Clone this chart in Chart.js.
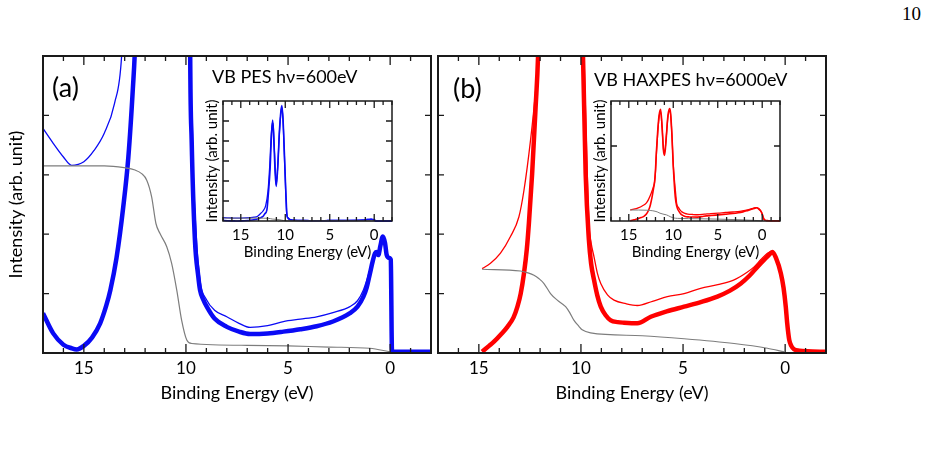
<!DOCTYPE html>
<html>
<head>
<meta charset="utf-8">
<script src="https://cdn.jsdelivr.net/npm/chart.js@4.4.1/dist/chart.umd.min.js"></script>
<style>
  body { margin: 0; width: 929px; height: 454px; background: #fff; position: relative; overflow: hidden; font-family: Lato, sans-serif; color: #000; }
  .holder { position: absolute; }
  .lbl { position: absolute; white-space: nowrap; }
</style>
</head>
<body>
<div class="lbl" style="left:902px;top:2px;font:19px 'Liberation Serif',serif;line-height:24px">10</div>

<div class="holder" style="left:0;top:0"><canvas id="mainA" width="440" height="410"></canvas></div>
<div class="holder" style="left:395px;top:0"><canvas id="mainB" width="440" height="410"></canvas></div>
<div class="holder" style="left:195px;top:90px"><canvas id="insetA" width="205" height="175"></canvas></div>
<div class="holder" style="left:583px;top:90px"><canvas id="insetB" width="205" height="175"></canvas></div>

<div class="lbl" style="left:52px;top:71px;font-size:27px;line-height:32px">(a)</div>
<div class="lbl" style="left:212px;top:65px;font-size:18px;line-height:22px">VB PES hν=600eV</div>
<div class="lbl" style="left:453px;top:72px;font-size:27px;line-height:32px">(b)</div>
<div class="lbl" style="left:594px;top:68px;font-size:18px;line-height:22px">VB HAXPES hν=6000eV</div>

<script>
// x tick labels (eV)
const xLabels = [15, 10, 5, 0];

// (a) VB PES 600 eV - thick spectrum
const aThickE = [17, 16.5, 16.0, 15.6, 15.35, 15.0, 14.6, 14.2, 13.9, 13.7, 13.4, 13.07, 12.82, 12.6, 12.49,
  12.3, 12.07, 11.9, 11.7, 11.55, 11.42, 11.3, 11.15, 11.02, 10.85, 10.65, 10.5, 10.38, 10.25, 10.1,
  9.95, 9.85, 9.8, 9.72, 9.56, 9.4, 9.31, 9.15, 8.98, 8.6, 8.0, 7.4, 6.86, 6.0, 5.23, 4.4, 3.6, 2.8,
  1.97, 1.6, 1.31, 1.15, 0.99, 0.85, 0.74, 0.65, 0.58, 0.48, 0.36, 0.25, 0.17, 0.05, -0.03, -0.09,
  -0.3, -1, -2];
const aThickI = [0.67, 0.33, 0.14, 0.08, 0.06, 0.12, 0.26, 0.5, 0.8, 1.06, 1.6, 2.46, 3.3, 4.45, 5.2,
  8, 12, 30, 58, 95, 111, 92, 55, 38, 58, 100, 120, 127, 112, 75,
  35, 12, 5.5, 3.58, 1.9, 1.3, 1.06, 0.9, 0.78, 0.58, 0.44, 0.36, 0.32, 0.33, 0.36, 0.4, 0.45, 0.53,
  0.67, 0.78, 0.95, 1.1, 1.34, 1.55, 1.68, 1.7, 1.65, 1.8, 1.96, 1.85, 1.65, 1.6, 1.57, 0.03,
  0.02, 0.02, 0.02];

// (a) thin spectrum
const aThinE = [17, 16.5, 16.0, 15.6, 15.0, 14.5, 14.0, 13.5, 13.15, 12.8, 12.5, 12.2, 11.95, 11.75, 11.6,
  11.45, 11.35, 11.2, 11.02, 10.85, 10.65, 10.45, 10.38, 10.25, 10.1, 9.95, 9.85, 9.78, 9.7, 9.5,
  9.3, 9.0, 8.6, 8.0, 7.4, 6.86, 6.0, 5.23, 4.4, 3.6, 2.8, 1.97, 1.6, 1.31, 0.99, 0.74, 0.58, 0.36,
  0.17, -0.03, -0.09, -0.3, -1, -2];
const aThinI = [3.78, 3.53, 3.3, 3.16, 3.22, 3.41, 3.7, 4.2, 5.0, 8, 11, 17, 32, 60, 90,
  108, 105, 75, 40, 60, 98, 122, 125, 110, 72, 33, 10, 5, 3.6, 2.0,
  1.2, 0.9, 0.72, 0.61, 0.5, 0.43, 0.46, 0.53, 0.57, 0.61, 0.68, 0.78, 0.88, 1.06, 1.4, 1.7, 1.7, 1.97,
  1.62, 1.57, 0.03, 0.02, 0.02, 0.02];

// (a) background
const aGrayE = [17, 14, 13.03, 12.49, 12.17, 11.92, 11.68, 11.47, 11.27, 10.94, 10.7, 10.45, 10.21, 9.96, 9.72, 7, 5, 3, 1, 0];
const aGrayI = [3.15, 3.15, 3.12, 3.08, 3.02, 2.91, 2.63, 2.18, 2.01, 1.79, 1.51, 1.06, 0.55, 0.22, 0.16, 0.13, 0.12, 0.1, 0.08, 0.02];

// (b) VB HAXPES 6000 eV - thick spectrum
const bThickE = [14.84, 14.5, 14.26, 13.9, 13.6, 13.3, 13.11, 12.95, 12.79, 12.65, 12.55, 12.39, 12.22, 12.1,
  12.0, 11.9, 11.75, 11.6, 11.42, 11.25, 11.1, 10.97, 10.8, 10.6, 10.41, 10.3, 10.15, 10.0, 9.9, 9.77,
  9.61, 9.5, 9.36, 9.2, 9.03, 8.8, 8.54, 8.2, 7.89, 7.24, 6.58, 5.8, 4.95, 4.1, 3.32, 2.7, 2.17, 1.75,
  1.36, 1.0, 0.8, 0.62, 0.45, 0.21, 0.08, -0.03, -0.1, -0.2, -0.3, -0.44, -0.7, -1.09, -2];
const bThickI = [0.02, 0.12, 0.19, 0.32, 0.44, 0.6, 0.78, 1.0, 1.34, 1.75, 2.18, 3.02, 4.14, 5.0,
  6.5, 8.8, 11.5, 13.5, 14.3, 12, 9, 8.4, 10.5, 13.5, 14.4, 13.8, 11, 7, 5, 3.02,
  1.9, 1.5, 1.23, 0.97, 0.78, 0.64, 0.55, 0.52, 0.51, 0.5, 0.61, 0.7, 0.78, 0.86, 0.95, 1.05, 1.17, 1.3,
  1.45, 1.58, 1.65, 1.7, 1.6, 1.34, 1.1, 0.78, 0.5, 0.22, 0.12, 0.06, 0.04, 0.03, 0.02];

// (b) thin spectrum
const bThinE = [14.84, 14.43, 13.94, 13.45, 13.04, 12.79, 12.47, 12.22, 12.1, 12.0, 11.9, 11.75, 11.6, 11.42,
  11.25, 11.1, 10.97, 10.8, 10.6, 10.41, 10.3, 10.15, 10.0, 9.85, 9.72, 9.61, 9.5, 9.36, 9.2, 9.03,
  8.7, 8.38, 7.8, 7.24, 6.5, 5.77, 4.95, 4.14, 3.3, 2.5, 1.9, 1.52, 1.2, 0.87, 0.62, 0.45, 0.21, 0.08,
  -0.03, -0.1, -0.2, -0.3, -0.44, -0.7, -1.09, -2];
const bThinI = [1.42, 1.51, 1.68, 1.96, 2.29, 2.74, 3.58, 4.42, 5.0, 6.3, 8.5, 11.2, 13.2, 14.0,
  11.8, 9.2, 8.8, 10.6, 13.3, 14.1, 13.6, 11, 7.2, 5, 3.4, 2.18, 1.85, 1.62, 1.35, 1.17,
  0.98, 0.89, 0.83, 0.8, 0.87, 0.95, 1.0, 1.09, 1.15, 1.23, 1.35, 1.45, 1.57, 1.68, 1.72, 1.62, 1.36, 1.12,
  0.8, 0.52, 0.23, 0.12, 0.06, 0.04, 0.03, 0.02];

// (b) background
const bGrayE = [14.84, 12.96, 12.6, 12.3, 12.05, 11.81, 11.49, 11.16, 10.75, 10.55, 10.34, 10.1, 9.94, 9.53, 7, 4.95, 2.5, 0.87, 0.05];
const bGrayI = [1.41, 1.38, 1.35, 1.31, 1.25, 1.17, 1.0, 0.89, 0.78, 0.68, 0.55, 0.45, 0.39, 0.34, 0.29, 0.24, 0.16, 0.08, 0.02];

// y tick positions (no labels)
const mainYTicks = [1, 2, 3, 4];
const insetAYTicks = [22, 44, 66, 88, 110];
const insetBYTicks = [9.6];

const BLUE = 'rgb(10,10,245)';
const RED = 'rgb(255,0,0)';
const GRAY = 'rgb(125,125,125)';
const FONT = 'Lato';

function pts(E, I) {
  return E.map((e, i) => ({ x: e, y: I[i] }));
}

// frame box plus inward tick marks
const frameTicks = {
  id: 'frameTicks',
  afterDatasetsDraw(chart, args, o) {
    const { ctx, chartArea: a, scales: { x, y } } = chart;
    ctx.save();
    ctx.strokeStyle = '#1a1a1a';
    ctx.lineWidth = 1.3;
    ctx.beginPath();
    for (let v = Math.ceil(x.min); v <= x.max; v++) {
      const px = x.getPixelForValue(v);
      const len = v % 5 === 0 ? o.major : o.minor;
      ctx.moveTo(px, a.bottom); ctx.lineTo(px, a.bottom - len);
      ctx.moveTo(px, a.top); ctx.lineTo(px, a.top + len);
    }
    for (const v of o.yTicks) {
      const py = y.getPixelForValue(v);
      ctx.moveTo(a.left, py); ctx.lineTo(a.left + o.yLen, py);
      ctx.moveTo(a.right, py); ctx.lineTo(a.right - o.yLen, py);
    }
    ctx.stroke();
    ctx.lineWidth = o.frame;
    ctx.strokeRect(a.left, a.top, a.width, a.height);
    ctx.restore();
  }
};

function line(data, color, width) {
  return {
    data, borderColor: color, borderWidth: width, pointRadius: 0,
    cubicInterpolationMode: 'monotone', fill: false, clip: 1
  };
}

function makeChart(id, datasets, cfg) {
  new Chart(document.getElementById(id), {
    type: 'line',
    data: { datasets },
    options: {
      responsive: false,
      animation: false,
      layout: { padding: cfg.pad },
      plugins: {
        legend: { display: false },
        tooltip: { enabled: false },
        frameTicks: cfg.ticks
      },
      scales: {
        x: {
          type: 'linear', min: -2, max: 17, reverse: true,
          afterBuildTicks: s => { s.ticks = xLabels.map(v => ({ value: v })); },
          afterFit: s => { s.height = cfg.xH; },
          grid: { display: false, drawTicks: false }, border: { display: false },
          ticks: { color: '#000', font: { family: FONT, size: cfg.tickFs }, padding: cfg.tickPad, maxRotation: 0, autoSkip: false },
          title: { display: true, text: 'Binding Energy (eV)', color: '#000',
                   font: { family: FONT, size: cfg.fs }, padding: { top: 0, bottom: cfg.titlePad } }
        },
        y: {
          type: 'linear', min: 0, max: cfg.yMax,
          afterFit: s => { s.width = cfg.yW; },
          grid: { display: false, drawTicks: false }, border: { display: false },
          ticks: { display: false },
          title: { display: cfg.yTitle, text: 'Intensity (arb. unit)', color: '#000',
                   font: { family: FONT, size: cfg.fs }, padding: { top: cfg.yTitlePad, bottom: 0 } }
        }
      }
    },
    plugins: [frameTicks]
  });
}

const mainCfg = (yTitle) => ({
  pad: { top: 56, right: 9, bottom: 0, left: 0 },
  xH: 57, yW: 43, fs: 18, tickFs: 17, tickPad: 5, titlePad: 6, yMax: 5, yTitle, yTitlePad: 5,
  ticks: { major: 9, minor: 5, yLen: 6, yTicks: mainYTicks, frame: 2 }
});
const insetCfg = (yMax, yTicks) => ({
  pad: { top: 11, right: 8, bottom: 0, left: 0 },
  xH: 44, yW: 28, fs: 15, tickFs: 15, tickPad: 5, titlePad: 4, yMax, yTitle: true, yTitlePad: 8,
  ticks: { major: 7, minor: 4, yLen: 6, yTicks, frame: 1.5 }
});

makeChart('mainA', [
  line(pts(aGrayE, aGrayI), GRAY, 1.2),
  line(pts(aThinE, aThinI), BLUE, 1.3),
  line(pts(aThickE, aThickI), BLUE, 4.5)
], mainCfg(true));

makeChart('mainB', [
  line(pts(bGrayE, bGrayI), GRAY, 1.2),
  line(pts(bThinE, bThinI), RED, 1.3),
  line(pts(bThickE, bThickI), RED, 4.5)
], mainCfg(false));

makeChart('insetA', [
  line(pts(aGrayE, aGrayI), GRAY, 1),
  line(pts(aThinE, aThinI), BLUE, 1.3),
  line(pts(aThickE, aThickI), BLUE, 1.6)
], insetCfg(132, insetAYTicks));

makeChart('insetB', [
  line(pts(bGrayE, bGrayI), GRAY, 1),
  line(pts(bThinE, bThinI), RED, 1.3),
  line(pts(bThickE, bThickI), RED, 1.6)
], insetCfg(15.36, insetBYTicks));
</script>
</body>
</html>
